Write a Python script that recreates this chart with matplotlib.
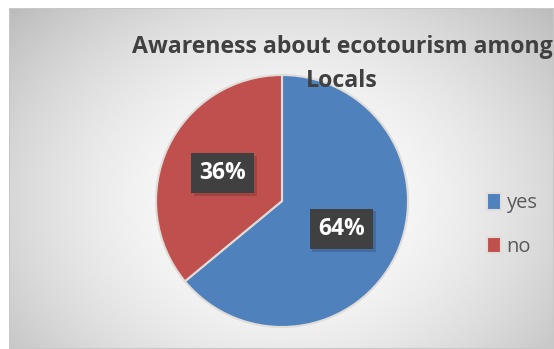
import numpy as np
import matplotlib.pyplot as plt
from matplotlib.patches import Rectangle
import matplotlib.patheffects as pe

# ---------- Data ----------
labels = ["yes", "no"]
shares = [64, 36]
colors = ["#4f81bd", "#c0504d"]
title = "Awareness about ecotourism among\nLocals"

W, H = 554, 349
fig = plt.figure(figsize=(W / 100, H / 100), dpi=100)
fig.patch.set_facecolor("white")

# ---------- Chart area background (radial gradient) ----------
bg = fig.add_axes([9 / W, 0, 1 - 9 / W, (H - 8) / H])
yy, xx = np.mgrid[0:341, 0:545]
cx, cy = 273, 193
r = np.sqrt(((xx - cx) / 330.0) ** 2 + ((yy - cy) / 260.0) ** 2)
shade = 1.0 - 0.22 * np.clip(r, 0, 1.2) ** 1.8
bg.imshow(np.dstack([shade] * 3), aspect="auto", extent=(0, 1, 0, 1), origin="upper")
bg.set_xlim(0, 1)
bg.set_ylim(0, 1)
bg.axis("off")
bg.add_patch(Rectangle((0, 0), 1, 1, transform=bg.transAxes, fill=False,
                       edgecolor="#c8c8c8", linewidth=1.5))

# ---------- Pie ----------
pcx, pcy, rad = 282, 201, 126
ax = fig.add_axes([(pcx - rad) / W, (H - pcy - rad) / H, 2 * rad / W, 2 * rad / H])
wedges, _, autotexts = ax.pie(
    shares, colors=colors, startangle=90, counterclock=False,
    autopct="%1.0f%%", pctdistance=0.52,
    wedgeprops=dict(edgecolor="#e0dcd8", linewidth=1.5),
)
ax.set_xlim(-1, 1)
ax.set_ylim(-1, 1)
ax.set_aspect("equal")
for t in autotexts:
    t.set_color("white")
    t.set_fontsize(16.5)
    t.set_fontweight("bold")
    t.set_fontfamily("Open Sans")
    t.set_bbox(dict(boxstyle="square,pad=0.36", facecolor="#404040", edgecolor="none"))
    t.get_bbox_patch().set_path_effects(
        [pe.SimplePatchShadow(offset=(2, -2), shadow_rgbFace="#000000", alpha=0.15),
         pe.Normal()])

# ---------- Title ----------
fig.text(342 / W, 1 - 64 / H, title, ha="center", va="center", fontsize=16.7,
         fontweight="bold", color="#404040", family="Open Sans", linespacing=1.6)

# ---------- Legend ----------
leg = fig.legend(wedges, labels, loc="center left", bbox_to_anchor=(487 / W, 1 - 225 / H),
                 frameon=False, handlelength=0.68, handleheight=0.9,
                 handletextpad=0.3, labelspacing=1.15, borderpad=0, borderaxespad=0,
                 prop={"family": "Open Sans", "size": 14.5})
for t in leg.get_texts():
    t.set_color("#595959")

fig.savefig("out.png", dpi=100)
